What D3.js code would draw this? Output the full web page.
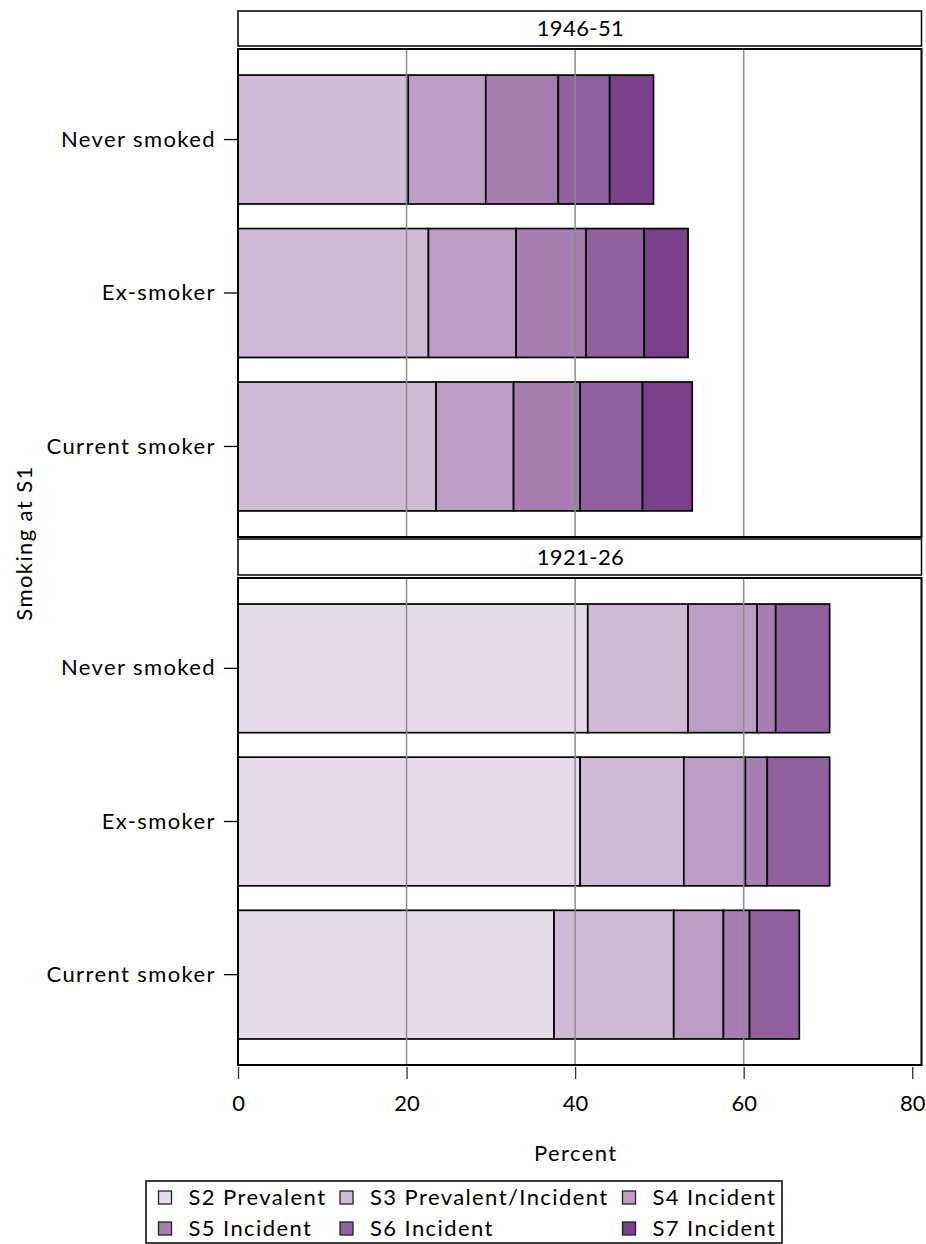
<!DOCTYPE html>
<html>
<head>
<meta charset="utf-8">
<script src="https://cdn.jsdelivr.net/npm/d3@7"></script>
<style>
  html, body { margin: 0; padding: 0; background: #fff; }
  svg { display: block; }
  text { font-family: Lato, "Open Sans", sans-serif; fill: #000; }
</style>
</head>
<body>
<svg id="chart" width="926" height="1244"></svg>
<script>
// ---------- data ----------
const categories = ["Never smoked", "Ex-smoker", "Current smoker"];
const cohorts = ["1946-51", "1921-26"];
const seriesNames = ["S2 Prevalent", "S3 Prevalent/Incident", "S4 Incident", "S5 Incident", "S6 Incident", "S7 Incident"];
const seriesKeys = ["S2", "S3", "S4", "S5", "S6", "S7"];
const xTicks = [0, 20, 40, 60, 80];
const gridValues = [20, 40, 60];

// cohort 1946-51 (values per category: Never, Ex, Current)
const c1946_S2 = [0, 0, 0];
const c1946_S3 = [20.2, 22.6, 23.5];
const c1946_S4 = [9.2, 10.4, 9.2];
const c1946_S5 = [8.6, 8.3, 7.9];
const c1946_S6 = [6.1, 6.9, 7.4];
const c1946_S7 = [5.2, 5.2, 5.9];

// cohort 1921-26
const c1921_S2 = [41.5, 40.6, 37.5];
const c1921_S3 = [11.9, 12.3, 14.2];
const c1921_S4 = [8.2, 7.3, 5.9];
const c1921_S5 = [2.2, 2.6, 3.1];
const c1921_S6 = [6.4, 7.4, 5.9];
const c1921_S7 = [0, 0, 0];

const colors = ["#e6dbea", "#d0bbd6", "#bc9ec5", "#a67fb0", "#91609e", "#7a408a"];

// ---------- build tables ----------
function table(arrs) {
  return categories.map((c, i) => {
    const row = { cat: c };
    seriesKeys.forEach((k, j) => row[k] = arrs[j][i]);
    return row;
  });
}
const panelData = [
  table([c1946_S2, c1946_S3, c1946_S4, c1946_S5, c1946_S6, c1946_S7]),
  table([c1921_S2, c1921_S3, c1921_S4, c1921_S5, c1921_S6, c1921_S7])
];

// ---------- layout ----------
const svg = d3.select("#chart");
const left = 238, right = 921.5;
const x = d3.scaleLinear().domain([0, 81.1]).range([left, right]);
const color = d3.scaleOrdinal().domain(seriesKeys).range(colors);
const panels = [
  { header: [11, 46], body: [49, 537] },
  { header: [539, 575], body: [578, 1065] }
];
const stack = d3.stack().keys(seriesKeys);
const FS = 22, LS = 1.4;

panels.forEach((p, pi) => {
  const y = d3.scaleBand().domain(categories).range(p.body)
    .paddingInner(0.16).paddingOuter(0.17);
  const g = svg.append("g");

  // header strip
  g.append("rect").attr("x", left).attr("y", p.header[0])
    .attr("width", right - left).attr("height", p.header[1] - p.header[0])
    .attr("fill", "#fff").attr("stroke", "#000").attr("stroke-width", 1.5);
  g.append("text").attr("x", (left + right) / 2 + LS / 2)
    .attr("y", (p.header[0] + p.header[1]) / 2).attr("dy", "0.36em")
    .attr("text-anchor", "middle").style("font-size", FS + "px").style("letter-spacing", "0.4px")
    .text(cohorts[pi]);

  // bars
  const series = stack(panelData[pi]);
  g.append("g").selectAll("g").data(series).join("g")
    .attr("fill", d => color(d.key))
    .selectAll("rect").data(d => d.filter(v => v[1] - v[0] > 0)).join("rect")
    .attr("x", d => x(d[0])).attr("width", d => x(d[1]) - x(d[0]))
    .attr("y", d => y(d.data.cat)).attr("height", y.bandwidth())
    .attr("stroke", "#000").attr("stroke-width", 1.7);

  // gridlines on top
  g.append("g").selectAll("line").data(gridValues).join("line")
    .attr("x1", d => x(d)).attr("x2", d => x(d))
    .attr("y1", p.body[0]).attr("y2", p.body[1])
    .attr("stroke", "#8c8c8c").attr("stroke-width", 1.5);

  // panel border
  g.append("rect").attr("x", left).attr("y", p.body[0])
    .attr("width", right - left).attr("height", p.body[1] - p.body[0])
    .attr("fill", "none").attr("stroke", "#000").attr("stroke-width", 2);

  // y axis
  const ya = g.append("g").attr("transform", `translate(${left - 1},0)`)
    .call(d3.axisLeft(y).tickSize(13).tickPadding(8));
  ya.select(".domain").remove();
  ya.selectAll(".tick line").attr("stroke", "#000").attr("stroke-width", 1.3);
  ya.selectAll(".tick text").style("font-size", FS + "px").style("letter-spacing", LS + "px")
    .style("font-family", "Lato, sans-serif").attr("fill", "#000");
});

// x axis
const xa = svg.append("g").attr("transform", "translate(0,1067)")
  .call(d3.axisBottom(x).tickValues(xTicks).tickSize(12).tickPadding(16));
xa.select(".domain").remove();
xa.selectAll(".tick line").attr("stroke", "#333").attr("stroke-width", 1.3);
xa.selectAll(".tick text").style("font-size", FS + "px").style("font-family", "Lato, sans-serif").attr("fill", "#000");

// axis titles
svg.append("text").attr("x", x(40) + LS / 2).attr("y", 1153).attr("dy", "0.36em")
  .attr("text-anchor", "middle").style("font-size", FS + "px").style("letter-spacing", LS + "px")
  .text("Percent");
svg.append("text").attr("transform", "translate(24,543) rotate(-90)").attr("dy", "0.36em")
  .attr("text-anchor", "middle").style("font-size", FS + "px").style("letter-spacing", LS + "px")
  .text("Smoking at S1");

// legend
const legend = svg.append("g");
legend.append("rect").attr("x", 146).attr("y", 1181).attr("width", 636).attr("height", 62)
  .attr("fill", "#fff").attr("stroke", "#000").attr("stroke-width", 1.5);
const legCols = [158.5, 340, 622.5];
const legRows = [1197.5, 1228.5];
const legItems = legend.selectAll("g.item").data(seriesKeys).join("g").attr("class", "item")
  .attr("transform", (d, i) => `translate(${legCols[i % 3]},${legRows[Math.floor(i / 3)]})`);
legItems.append("rect").attr("x", 0).attr("y", -6.5).attr("width", 13).attr("height", 13)
  .attr("fill", d => color(d)).attr("stroke", "#222").attr("stroke-width", 1.3);
legItems.append("text").attr("x", 30).attr("dy", "0.36em")
  .style("font-size", FS + "px").style("letter-spacing", LS + "px")
  .text((d, i) => seriesNames[i]);
</script>
</body>
</html>
